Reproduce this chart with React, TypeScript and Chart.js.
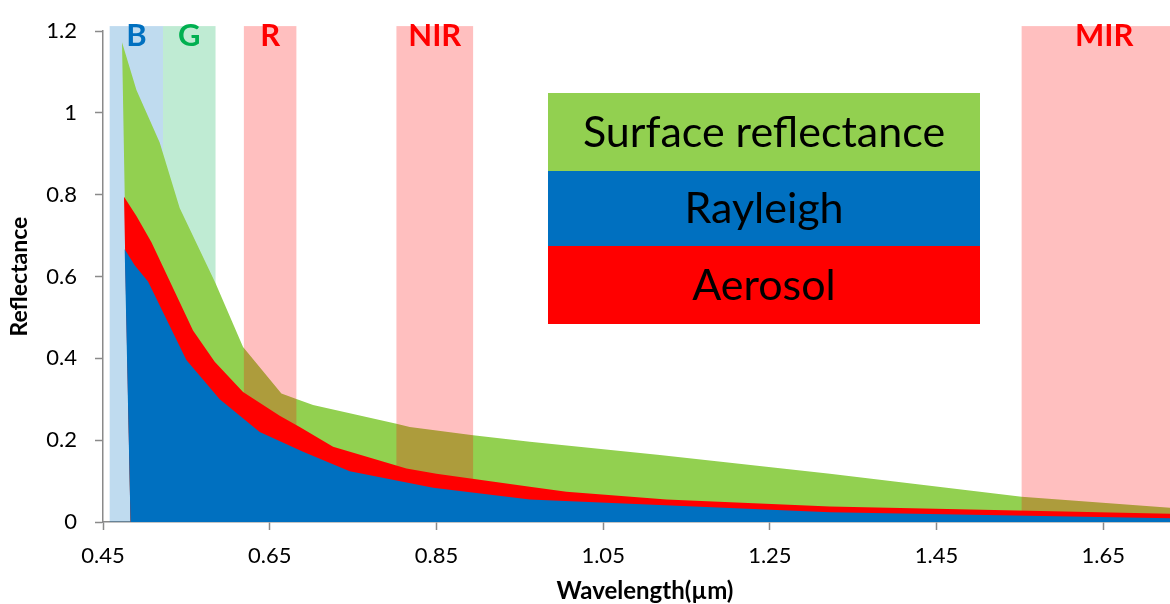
import React, { useEffect, useRef } from "react";
import { Chart, registerables } from "chart.js";

Chart.register(...registerables);

// ---------- data ----------
const xMin = 0.45;
const xMax = 1.73;
const xTicks = [0.45, 0.65, 0.85, 1.05, 1.25, 1.45, 1.65];
const xTickLabels = ["0.45", "0.65", "0.85", "1.05", "1.25", "1.45", "1.65"];
const yTicks = [0, 0.2, 0.4, 0.6, 0.8, 1, 1.2];
const yTickLabels = ["0", "0.2", "0.4", "0.6", "0.8", "1", "1.2"];

// wavelength where all three areas meet the zero line on the left
const areaOriginWl = 0.483;

// top of the green layer (total reflectance)
const surfaceWl = [0.4728, 0.4901, 0.518, 0.542, 0.585, 0.618, 0.664, 0.682, 0.702, 0.802, 0.818, 0.894, 0.962, 1.118, 1.322, 1.552, 1.73];
const surfaceTop = [1.173, 1.056, 0.928, 0.768, 0.584, 0.428, 0.314, 0.301, 0.286, 0.24, 0.232, 0.212, 0.196, 0.164, 0.118, 0.062, 0.035];

// top of the red layer (Rayleigh + aerosol)
const aerosolWl = [0.4752, 0.4901, 0.5081, 0.558, 0.584, 0.618, 0.662, 0.686, 0.726, 0.814, 0.85, 0.962, 1.006, 1.126, 1.322, 1.73];
const aerosolTop = [0.795, 0.748, 0.684, 0.468, 0.392, 0.318, 0.26, 0.232, 0.184, 0.131, 0.118, 0.086, 0.074, 0.055, 0.038, 0.02];

// top of the blue layer (Rayleigh)
const rayleighWl = [0.476, 0.488, 0.504, 0.55, 0.59, 0.638, 0.69, 0.746, 0.846, 0.962, 1.322, 1.73];
const rayleighTop = [0.667, 0.628, 0.588, 0.396, 0.3, 0.22, 0.172, 0.124, 0.084, 0.055, 0.024, 0.009];

const seriesNames = ["Surface reflectance", "Rayleigh", "Aerosol"];
const seriesColors = ["#92D050", "#0070C0", "#FF0000"];

const bandNames = ["B", "G", "R", "NIR", "MIR"];
const bandStart = [0.458, 0.522, 0.619, 0.802, 1.552];
const bandEnd = [0.522, 0.585, 0.682, 0.894, 1.75];
const bandTop = 1.2125;
const bandFills = ["rgba(0,112,192,0.25)", "rgba(0,176,80,0.25)", "rgba(255,0,0,0.25)", "rgba(255,0,0,0.25)", "rgba(255,0,0,0.25)"];
const bandTextColors = ["#0070C0", "#00B050", "#FF0000", "#FF0000", "#FF0000"];

const FONT = "Lato, 'Open Sans', sans-serif";
const AXIS = "#8a8a8a";

// closed area outline: zero-line corner, the series' top edge, zero line at the end
function areaPoints(xs: number[], ys: number[]) {
  const pts = xs.map((x, i) => ({ x, y: ys[i] }));
  return [{ x: areaOriginWl, y: 0 }, ...pts, { x: xs[xs.length - 1], y: 0 }];
}

function drawBands(chart: any, idx: number[]) {
  const { ctx } = chart;
  const xs = chart.scales.x;
  const ys = chart.scales.y;
  ctx.save();
  for (const i of idx) {
    const x0 = xs.getPixelForValue(bandStart[i]);
    const x1 = xs.getPixelForValue(bandEnd[i]);
    const y0 = ys.getPixelForValue(bandTop);
    const y1 = ys.getPixelForValue(0);
    ctx.fillStyle = bandFills[i];
    ctx.fillRect(x0, y0, x1 - x0, y1 - y0);
  }
  ctx.restore();
}

const bandPlugin = {
  id: "bands",
  beforeDatasetsDraw(chart: any) {
    drawBands(chart, [0, 1]);
  },
  afterDatasetDraw(chart: any, args: any) {
    if (args.index === 2) drawBands(chart, [2, 3, 4]);
  },
  afterDatasetsDraw(chart: any) {
    const { ctx } = chart;
    const xs = chart.scales.x;
    ctx.save();
    ctx.font = `bold 31px ${FONT}`;
    ctx.textAlign = "center";
    ctx.textBaseline = "alphabetic";
    bandNames.forEach((name, i) => {
      const cx = (xs.getPixelForValue(bandStart[i]) + xs.getPixelForValue(bandEnd[i])) / 2;
      ctx.fillStyle = bandTextColors[i];
      ctx.fillText(name, cx, 46);
    });
    ctx.restore();
  },
  afterDraw(chart: any) {
    const { ctx } = chart;
    ctx.save();
    // legend box
    const lx = 548;
    const lw = 432;
    const rows = [
      { y: 93, h: 78, name: seriesNames[0], color: seriesColors[0] },
      { y: 171, h: 75, name: seriesNames[1], color: seriesColors[1] },
      { y: 246, h: 78, name: seriesNames[2], color: seriesColors[2] },
    ];
    ctx.textAlign = "center";
    ctx.textBaseline = "middle";
    ctx.font = `43px ${FONT}`;
    rows.forEach((r) => {
      ctx.fillStyle = r.color;
      ctx.fillRect(lx, r.y, lw, r.h);
      ctx.fillStyle = "#000";
      ctx.fillText(r.name, lx + lw / 2, r.y + r.h / 2 + 1);
    });
    // x axis title
    ctx.font = `bold 24px ${FONT}`;
    ctx.fillStyle = "#000";
    ctx.fillText("Wavelength(\u00b5m)", 645, 591);
    ctx.restore();
  },
};

function areaDataset(label: string, color: string, xs: number[], ys: number[]) {
  return {
    label,
    data: areaPoints(xs, ys),
    backgroundColor: color,
    borderColor: color,
    borderWidth: 0,
    pointRadius: 0,
    fill: "shape",
    tension: 0,
  };
}

export default function App() {
  const ref = useRef<HTMLCanvasElement | null>(null);

  useEffect(() => {
    document.body.style.margin = "0";
    if (!ref.current) return;
    const chart = new Chart(ref.current, {
      type: "line",
      data: {
        datasets: [
          areaDataset(seriesNames[1], seriesColors[1], rayleighWl, rayleighTop),
          areaDataset(seriesNames[2], seriesColors[2], aerosolWl, aerosolTop),
          areaDataset(seriesNames[0], seriesColors[0], surfaceWl, surfaceTop),
        ] as any,
      },
      options: {
        animation: false,
        responsive: false,
        maintainAspectRatio: false,
        layout: { padding: { top: 23, right: 0, left: 0, bottom: 0 } },
        plugins: {
          legend: { display: false },
          tooltip: { enabled: false },
        },
        scales: {
          x: {
            type: "linear",
            min: xMin,
            max: xMax,
            z: 1,
            afterBuildTicks: (s: any) => {
              s.ticks = xTicks.map((v) => ({ value: v }));
            },
            afterFit: (s: any) => {
              s.height = 82;
            },
            ticks: {
              callback: (_v: any, i: number) => xTickLabels[i],
              font: { family: FONT, size: 22 },
              color: "#000",
              padding: 13,
              maxRotation: 0,
              autoSkip: false,
            },
            grid: {
              drawOnChartArea: false,
              drawTicks: true,
              tickLength: 8,
              tickColor: AXIS,
              tickWidth: 1.5,
            },
            border: { display: true, color: AXIS, width: 1.5 },
          },
          y: {
            type: "linear",
            min: 0,
            max: 1.2,
            z: 1,
            afterBuildTicks: (s: any) => {
              s.ticks = yTicks.map((v) => ({ value: v }));
            },
            afterFit: (s: any) => {
              s.width = 103;
            },
            ticks: {
              callback: (_v: any, i: number) => yTickLabels[i],
              font: { family: FONT, size: 22 },
              color: "#000",
              padding: 18,
              autoSkip: false,
            },
            grid: {
              drawOnChartArea: false,
              drawTicks: true,
              tickLength: 8,
              tickColor: AXIS,
              tickWidth: 1.5,
            },
            border: { display: true, color: AXIS, width: 1.5 },
            title: {
              display: true,
              text: "Reflectance",
              font: { family: FONT, size: 23, weight: "bold" },
              color: "#000",
              padding: { top: 6, bottom: 0 },
            },
          },
        },
      },
      plugins: [bandPlugin],
    });
    return () => chart.destroy();
  }, []);

  return (
    <canvas
      ref={ref}
      width={1170}
      height={604}
      style={{ display: "block", width: 1170, height: 604 }}
    />
  );
}
